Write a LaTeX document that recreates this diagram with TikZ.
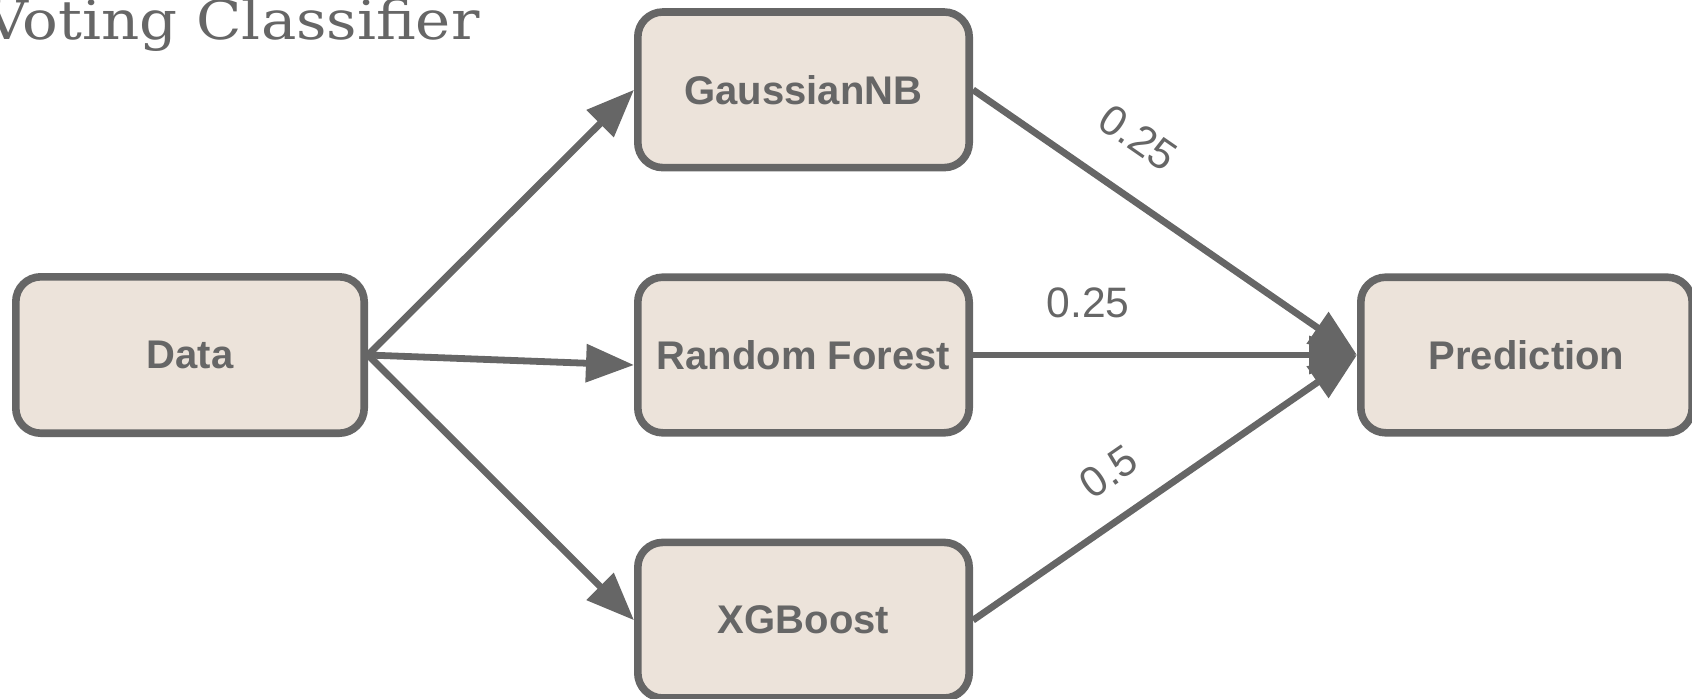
\documentclass[tikz,border=0pt]{standalone}
\usepackage{fontspec}
\setmainfont{Liberation Sans}
\newfontfamily\titlefont{DejaVu Serif}
\usetikzlibrary{arrows.meta,positioning}
\definecolor{edgegray}{HTML}{666666}
\definecolor{boxfill}{RGB}{236,227,218}
\tikzset{
    block/.style={
        rectangle,
        rounded corners=12.5pt,
        line width=3.8pt,
        draw=edgegray,
        fill=boxfill,
        text=edgegray,
        font=\fontsize{20}{24}\selectfont\bfseries,
        minimum width=165.7pt,
        minimum height=77.8pt,
    },
    weight/.style={
        text=edgegray,
        font=\fontsize{21.3}{25}\selectfont,
    },
    every edge/.style={
        draw=edgegray,
        -{Triangle[length=24pt,width=18.5pt]},
        line width=3.4pt
    },
}
\begin{document}
\begin{tikzpicture}
    \useasboundingbox (0,0) rectangle (846pt,-349pt);
    \node [anchor=base east, xscale=1.1, inner sep=0pt, text=edgegray,
           font=\titlefont\fontsize{27}{32}\selectfont] (title) at (240pt,-19.5pt) {Voting Classifier};

    \node [block, minimum width=174.2pt, minimum height=78.2pt] (data) at (95pt,-177.5pt) {Data};
    \node [block, right=133pt of data] (forest) {Random Forest};
    \node [block, above=51pt of forest] (gauss) {GaussianNB};
    \node [block, below=51pt of forest] (xgb) {XGBoost};
    \node [block, right=192pt of forest] (pred) {Prediction};

    \draw (data.east) edge (gauss.west);
    \draw (data.east) edge ([yshift=-5pt]forest.west);
    \draw (data.east) edge (xgb.west);

    \draw (gauss.east) edge node[weight, pos=0.35, sloped, above, inner sep=18pt] {0.25} (pred.west);
    \draw (forest.east) edge node[weight, pos=0.3, above, inner sep=17pt] {0.25} (pred.west);
    \draw (xgb.east) edge node[weight, pos=0.42, sloped, above, inner sep=13.4pt] {0.5} (pred.west);
\end{tikzpicture}
\end{document}
